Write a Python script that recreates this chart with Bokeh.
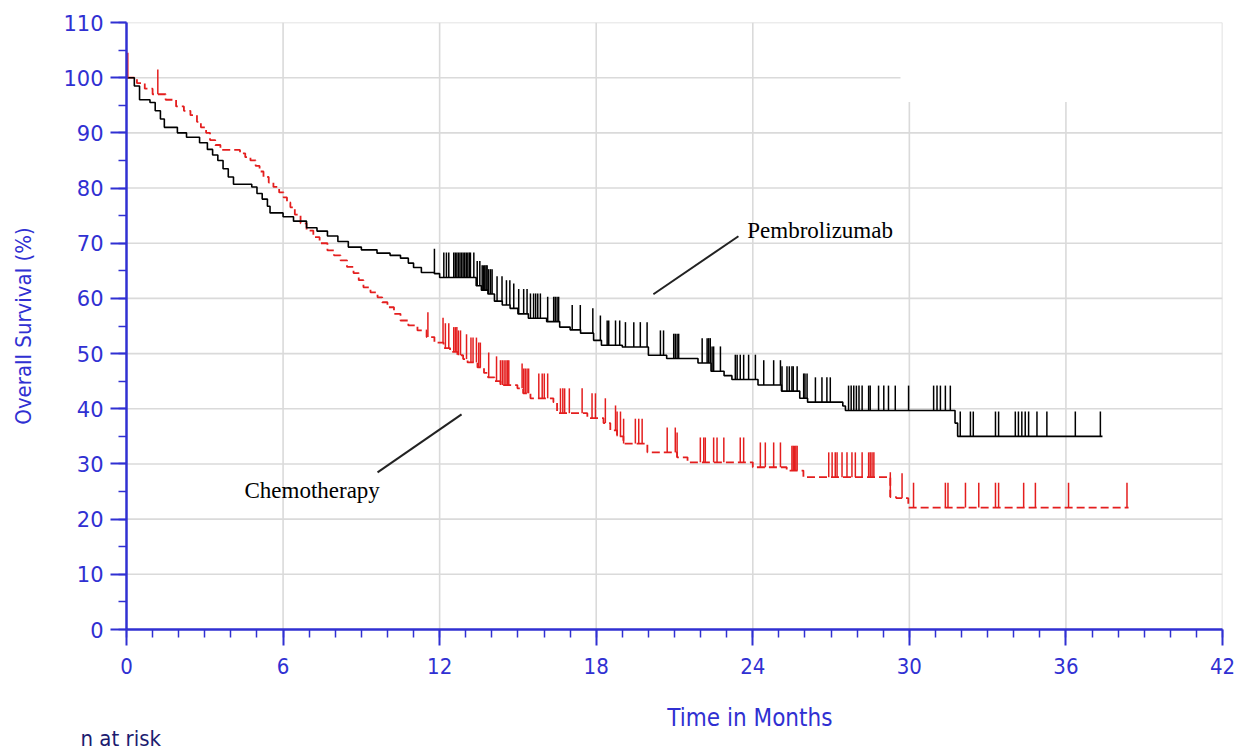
import numpy as np
from bokeh.plotting import figure
from bokeh.models import Range1d, FixedTicker, Title
from bokeh.core.properties import value
from bokeh.embed import file_html
from bokeh.resources import INLINE

# ---------------- data ----------------
pembro_t = [0, 0.3, 0.5, 0.9, 1.1, 1.3, 1.45, 1.95, 2.3, 2.8, 3.1, 3.3, 3.5, 3.7, 3.9, 4.1,
            4.8, 5.0, 5.2, 5.4, 5.5, 6.0, 6.4, 6.9, 7.3, 7.7, 8.1, 8.5, 9.0, 9.6, 10.1, 10.5,
            10.8, 11.0, 11.3, 11.8, 12.0, 13.4, 13.6, 13.85, 14.1, 14.4, 14.7, 15.0, 15.4,
            16.1, 16.6, 17.0, 17.4, 17.9, 18.2, 19.0, 20.0, 20.7, 21.9, 22.4, 22.9, 23.2,
            24.2, 25.1, 25.8, 26.1, 27.45, 27.55, 31.75, 31.85]
pembro_s = [100, 98.5, 96, 95.5, 94, 92.5, 91, 90, 89.2, 88.2, 87, 86, 85, 83.5, 82, 80.7,
            80.2, 79, 78, 76.7, 75.5, 74.8, 74.0, 72.8, 72.2, 71.3, 70.3, 69.3, 68.8, 68.2, 67.8, 67.3,
            66.4, 65.6, 64.7, 64.5, 63.8, 62.3, 61.5, 60.8, 59.5, 58.8, 58.2, 57.2, 56.4,
            55.8, 54.8, 54.3, 53.7, 52.4, 51.5, 51.2, 49.7, 49.1, 48.3, 46.8, 46.0, 45.3,
            44.3, 43.2, 41.9, 41.2, 40.5, 39.7, 37.4, 35.0]
pembro_last = 37.4
pembro_censor = [11.80, 12.16, 12.26, 12.35, 12.54, 12.6, 12.66, 12.72, 12.78, 12.84, 12.9,
                 12.96, 13.02, 13.08, 13.14, 13.18, 13.31, 13.44, 13.54, 13.63, 13.68, 13.73,
                 13.78, 13.82, 13.88, 13.95, 14.01, 14.2, 14.39, 14.56, 14.69, 14.84, 15.03,
                 15.22, 15.35, 15.48, 15.6, 15.68, 15.76, 15.86, 16.14, 16.37, 16.43, 16.5,
                 16.56, 17.08, 17.39, 17.87, 18.16, 18.42, 18.48, 18.74, 18.9, 19.12, 19.44,
                 19.69, 19.95, 20.46, 20.58, 20.97, 21.03, 21.1, 21.16, 22.06, 22.25, 22.31,
                 22.37, 22.44, 22.5, 22.76, 23.33, 23.4, 23.52, 23.65, 23.84, 24.1, 24.42,
                 24.8, 25.06, 25.12, 25.31, 25.4, 25.5, 25.55, 25.7, 25.95, 26.0, 26.08,
                 26.4, 26.65, 26.84, 26.97, 27.67, 27.77, 27.87, 27.97, 28.07, 28.19, 28.44,
                 28.5, 28.82, 29.02, 29.2, 29.46, 29.97, 30.93, 31.06, 31.19, 31.38, 31.57,
                 31.95, 32.34, 32.45, 33.3, 33.42, 34.06, 34.18, 34.31, 34.44, 34.57, 34.89,
                 35.27, 36.36, 37.32]

chemo_t = [0, 0.4, 0.7, 1.0, 1.5, 1.9, 2.2, 2.45, 2.7, 2.85, 3.05, 3.2, 3.4, 3.6, 4.35, 4.55,
           4.75, 4.95, 5.1, 5.25, 5.45, 5.63, 5.85, 6.02, 6.15, 6.28, 6.45, 6.67, 6.9, 7.16,
           7.4, 7.7, 7.95, 8.2, 8.45, 8.7, 8.9, 9.08, 9.35, 9.62, 9.8, 10.0, 10.25, 10.5,
           10.8, 11.15, 11.5, 11.8, 12.15, 12.4, 12.68, 12.9, 13.07, 13.45, 13.7, 13.85,
           14.1, 14.33, 14.98, 15.2, 15.48, 16.36, 16.5, 17.66, 18.28, 18.54, 18.8, 19.04,
           19.96, 21.1, 21.5, 24.0, 25.3, 25.94, 29.27, 29.5, 29.96]
chemo_s = [100, 99, 98, 97, 96, 94.8, 94, 93.2, 92, 91, 90, 88.7, 87.8, 86.9, 86.3, 85.6,
           85.0, 84, 83, 82, 81, 80.2, 79.2, 78.3, 77.4, 76.5, 75.2, 73.6, 72.3, 71.1,
           70, 68.7, 67.8, 66.9, 65.7, 64.6, 63.3, 62.0, 61.1, 60.2, 59.3, 58.4, 57.2, 56.0,
           55.1, 54.2, 53.0, 52.0, 51.0, 50.3, 49.7, 49.0, 48.4, 47.5, 46.5, 45.7,
           45.0, 44.3, 43.7, 42.8, 41.9, 41.2, 39.2, 38.3, 37.4, 36.1, 35.0, 33.7,
           32.1, 31.2, 30.3, 29.4, 28.8, 27.6, 24.0, 23.8, 22.1]
chemo_last = 38.4
chemo_censor = [0.05, 1.2, 11.55, 12.13, 12.22, 12.35, 12.54, 12.6, 12.66, 12.72, 12.8, 13.03,
                13.2, 13.28, 13.41, 13.5, 13.56, 13.88, 14.18, 14.33, 14.4, 14.47, 14.54,
                14.6, 14.65, 15.16, 15.22, 15.28, 15.35, 15.41, 15.8, 15.93, 16.01, 16.14,
                16.63, 16.72, 16.79, 16.97, 17.46, 17.84, 17.97, 18.35, 18.74, 18.8, 18.93,
                19.05, 19.5, 19.63, 19.76, 20.72, 21.03, 21.1, 21.99, 22.12, 22.18, 22.5,
                22.63, 22.89, 23.52, 23.65, 24.29, 24.48, 24.8, 25.06, 25.5, 25.55, 25.6,
                25.65, 25.7, 26.91, 27.04, 27.16, 27.23, 27.42, 27.61, 27.8, 27.93, 28.19,
                28.44, 28.5, 28.57, 28.64, 29.27, 29.72, 30.16, 31.38, 31.48, 32.15, 32.66,
                33.3, 33.42, 34.38, 34.83, 36.1, 38.34]

x_ticks = [0, 6, 12, 18, 24, 30, 36, 42]
y_ticks = [0, 10, 20, 30, 40, 50, 60, 70, 80, 90, 100, 110]

# ---------------- styles ----------------
BLUE = "#3030d2"
RED = "#e41e1e"
GRID = "#dadada"
MARK_H = 4.5
NBSP = "\u00a0"


def step_path(t, s, t_end):
    xs, ys = [t[0]], [s[0]]
    for i in range(1, len(t)):
        xs += [t[i], t[i]]
        ys += [s[i - 1], s[i]]
    xs.append(t_end)
    ys.append(s[-1])
    return xs, ys


def surv_at(t, s, c):
    idx = np.searchsorted(np.array(t), np.array(c), side="right") - 1
    return np.array(s)[idx]


p = figure(width=1239, height=751, x_range=Range1d(0, 42), y_range=Range1d(0, 110),
           output_backend="svg", toolbar_location=None,
           min_border_left=126, min_border_right=17, min_border_top=22, min_border_bottom=122)
p.xgrid.visible = False
p.ygrid.visible = False
p.outline_line_color = None
p.background_fill_color = "white"
p.border_fill_color = "white"

# grid lines (partly interrupted as in the original)
hy = [y for y in y_ticks if y > 0]
hx1 = [29.66 if y == 100 else 42 for y in hy]
p.segment(x0=[0] * len(hy), y0=hy, x1=hx1, y1=hy, line_color=GRID, line_width=1.6)
vx = [x for x in x_ticks if x > 0]
vy1 = [95.6 if x in (30, 36) else 110 for x in vx]
p.segment(x0=vx, y0=[0] * len(vx), x1=vx, y1=vy1, line_color=GRID, line_width=1.6)

# curves
cx, cy = step_path(chemo_t, chemo_s, chemo_last)
p.line(cx, cy, line_color=RED, line_width=1.8, line_dash="8 4")
bx, by = step_path(pembro_t, pembro_s, pembro_last)
p.line(bx, by, line_color="black", line_width=1.6)

# censor marks
cs = surv_at(chemo_t, chemo_s, chemo_censor)
p.segment(x0=chemo_censor, y0=cs, x1=chemo_censor, y1=cs + MARK_H, line_color=RED, line_width=1.5)
ps = surv_at(pembro_t, pembro_s, pembro_censor)
p.segment(x0=pembro_censor, y0=ps, x1=pembro_censor, y1=ps + MARK_H, line_color="black", line_width=1.5)

# annotations
p.segment(x0=[20.19, 9.62], y0=[60.75, 28.47], x1=[23.45, 12.84], y1=[71.27, 38.99],
          line_color="#222222", line_width=2)
p.text(x=[23.79], y=[72.36], text=["Pembrolizumab"], text_font=value("Liberation Serif"),
       text_font_size="23px", text_color="black", text_baseline="alphabetic", text_align="left")
p.text(x=[4.52], y=[25.2], text=["Chemotherapy"], text_font=value("Liberation Serif"),
       text_font_size="23px", text_color="black", text_baseline="alphabetic", text_align="left")

# axes
p.xaxis.ticker = FixedTicker(ticks=x_ticks, minor_ticks=list(range(0, 43)))
p.yaxis.ticker = FixedTicker(ticks=y_ticks, minor_ticks=list(range(0, 111, 5)))
for ax in (p.xaxis, p.yaxis):
    ax.axis_line_color = BLUE
    ax.axis_line_width = 2.5
    ax.major_tick_line_color = BLUE
    ax.major_tick_line_width = 2
    ax.minor_tick_line_color = BLUE
    ax.minor_tick_line_width = 1.5
    ax.major_tick_in = 0
    ax.minor_tick_in = 0
    ax.major_label_text_color = BLUE
    ax.axis_label_text_color = BLUE
    ax.axis_label_text_font_style = "normal"

p.yaxis.major_tick_out = 16
p.yaxis.minor_tick_out = 8
p.yaxis.major_label_text_font = "DejaVu Sans"
p.yaxis.major_label_text_font_size = "21px"
p.yaxis.major_label_standoff = 7
p.yaxis.axis_label = "Overall Survival (%)"
p.yaxis.axis_label_text_font = "DejaVu Sans Condensed"
p.yaxis.axis_label_text_font_size = "22px"
p.yaxis.axis_label_standoff = 24

p.xaxis.major_tick_out = 16
p.xaxis.minor_tick_out = 8
p.xaxis.major_label_text_font = "DejaVu Sans Condensed"
p.xaxis.major_label_text_font_size = "22px"
p.xaxis.major_label_standoff = 12
# the title sits right of centre in the original: pad with no-break spaces
p.xaxis.axis_label = NBSP * 22 + "Time in Months"
p.xaxis.axis_label_text_font = "DejaVu Sans Condensed"
p.xaxis.axis_label_text_font_size = "24px"
p.xaxis.axis_label_standoff = 27

p.add_layout(Title(text="n at risk", align="left", offset=-46, standoff=-21,
                   text_font="DejaVu Sans Condensed", text_font_size="22px",
                   text_color="#1c1c70", text_font_style="normal"), "below")

open("out.html", "w").write(file_html(p, INLINE))
